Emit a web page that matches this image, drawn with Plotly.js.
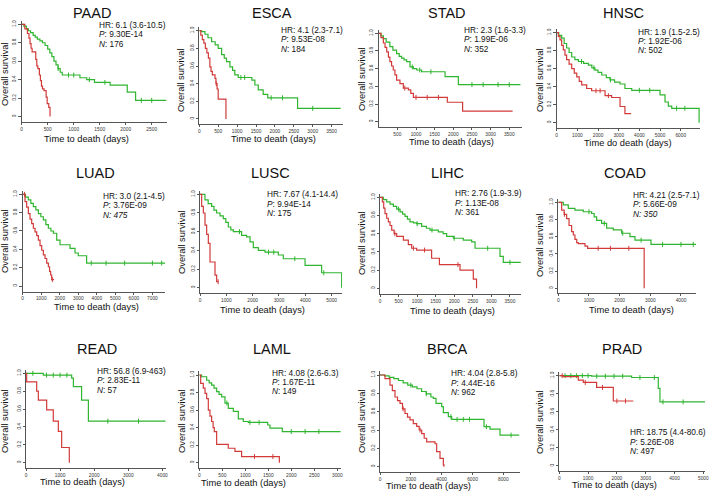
<!DOCTYPE html>
<html>
<head>
<meta charset="utf-8">
<script src="https://cdn.plot.ly/plotly-3.0.1.min.js"></script>
<style>html,body{margin:0;padding:0;background:#fff}#km{width:709px;height:492px}</style>
</head>
<body>
<div id="km"></div>
<script>
var W = 709, H = 492;

// cancer types, in panel order
var cancers = ['PAAD', 'ESCA', 'STAD', 'HNSC', 'LUAD', 'LUSC', 'LIHC', 'COAD', 'READ', 'LAML', 'BRCA', 'PRAD'];
var hrText = ['6.1 (3.6-10.5)', '4.1 (2.3-7.1)', '2.3 (1.6-3.3)', '1.9 (1.5-2.5)', '3.0 (2.1-4.5)', '7.67 (4.1-14.4)',
              '2.76 (1.9-3.9)', '4.21 (2.5-7.1)', '56.8 (6.9-463)', '4.08 (2.6-6.3)', '4.04 (2.8-5.8)', '18.75 (4.4-80.6)'];
var pText = ['9.30E-14', '9.53E-08', '1.99E-06', '1.92E-06', '3.76E-09', '9.94E-14',
             '1.13E-08', '5.66E-09', '2.83E-11', '1.67E-11', '4.44E-16', '5.26E-08'];
var nText = ['176', '184', '352', '502', '475', '175', '361', '350', '57', '149', '962', '497'];

// survival curves: low-risk (green) and high-risk (red), time in days
var paadLoT = [0, 40, 90, 130, 170, 220, 260, 300, 350, 400, 450, 500, 540, 580, 620, 660, 700, 740, 780, 1120, 1250, 1400, 1700, 2030, 2190, 2780];
var paadLoS = [1, 0.98, 0.95, 0.93, 0.91, 0.88, 0.86, 0.84, 0.82, 0.80, 0.77, 0.73, 0.69, 0.65, 0.60, 0.56, 0.52, 0.48, 0.45, 0.42, 0.40, 0.37, 0.34, 0.265, 0.175, 0.175];
var paadHiT = [0, 60, 110, 140, 160, 180, 200, 250, 270, 290, 310, 340, 360, 380, 400, 430, 470, 490, 520, 545];
var paadHiS = [1, 0.95, 0.90, 0.85, 0.79, 0.74, 0.70, 0.70, 0.62, 0.55, 0.52, 0.45, 0.39, 0.33, 0.30, 0.28, 0.21, 0.14, 0.10, 0];

var escaLoT = [0, 60, 150, 230, 326, 420, 500, 590, 660, 720, 810, 880, 940, 1030, 1390, 1470, 1560, 1690, 1810, 2600, 3740];
var escaLoS = [1, 0.99, 0.96, 0.92, 0.875, 0.84, 0.80, 0.73, 0.69, 0.65, 0.59, 0.55, 0.50, 0.47, 0.44, 0.385, 0.33, 0.28, 0.24, 0.12, 0.12];
var escaHiT = [0, 40, 80, 120, 160, 200, 240, 280, 310, 345, 415, 440, 470, 500, 705];
var escaHiS = [1, 0.95, 0.90, 0.86, 0.80, 0.75, 0.69, 0.59, 0.54, 0.50, 0.46, 0.40, 0.34, 0.225, 0];

var stadLoT = [0, 60, 125, 200, 300, 380, 480, 550, 615, 680, 750, 840, 930, 1020, 1150, 1780, 2135, 3800];
var stadLoS = [1, 0.97, 0.94, 0.90, 0.85, 0.81, 0.77, 0.74, 0.72, 0.70, 0.68, 0.62, 0.60, 0.585, 0.565, 0.51, 0.42, 0.42];
var stadHiT = [0, 60, 125, 170, 215, 260, 300, 345, 390, 435, 480, 570, 660, 795, 860, 930, 1840, 2250, 3590];
var stadHiS = [1, 0.95, 0.89, 0.84, 0.79, 0.73, 0.68, 0.63, 0.585, 0.53, 0.47, 0.43, 0.38, 0.36, 0.32, 0.275, 0.22, 0.12, 0.12];

var hnscLoT = [0, 100, 240, 360, 480, 600, 725, 880, 1050, 1300, 1530, 1700, 1850, 2000, 2180, 2400, 2580, 2800, 3065, 3300, 3630, 5000, 5240, 5400, 5565, 6890];
var hnscLoS = [1, 0.97, 0.94, 0.88, 0.83, 0.78, 0.73, 0.70, 0.68, 0.66, 0.64, 0.61, 0.585, 0.56, 0.53, 0.50, 0.475, 0.45, 0.43, 0.38, 0.36, 0.31, 0.23, 0.185, 0.16, 0];
var hnscHiT = [0, 80, 160, 240, 320, 400, 480, 600, 725, 850, 970, 1090, 1210, 1450, 1690, 2340, 2660, 3065, 3300, 3600];
var hnscHiS = [1, 0.96, 0.92, 0.86, 0.81, 0.75, 0.70, 0.65, 0.60, 0.55, 0.51, 0.46, 0.42, 0.38, 0.355, 0.30, 0.28, 0.18, 0.10, 0.10];

var luadLoT = [0, 150, 305, 440, 575, 710, 845, 980, 1115, 1250, 1385, 1520, 1655, 1835, 2015, 2555, 2825, 3000, 3450, 7680];
var luadLoS = [1, 0.97, 0.94, 0.90, 0.865, 0.83, 0.79, 0.755, 0.72, 0.67, 0.63, 0.60, 0.575, 0.50, 0.45, 0.41, 0.36, 0.33, 0.25, 0.25];
var luadHiT = [0, 125, 215, 305, 395, 485, 575, 665, 755, 845, 935, 1025, 1115, 1205, 1295, 1385, 1450, 1510, 1565, 1690];
var luadHiS = [1, 0.92, 0.86, 0.79, 0.73, 0.68, 0.63, 0.59, 0.55, 0.50, 0.44, 0.39, 0.34, 0.30, 0.25, 0.21, 0.16, 0.12, 0.07, 0.07];

var luscLoT = [0, 190, 310, 440, 530, 630, 760, 885, 980, 1075, 1170, 1265, 1580, 1770, 1900, 2025, 2215, 2470, 2975, 3165, 3990, 4620, 5380];
var luscLoS = [1, 0.94, 0.90, 0.87, 0.83, 0.80, 0.77, 0.74, 0.70, 0.65, 0.62, 0.60, 0.56, 0.545, 0.49, 0.43, 0.40, 0.38, 0.35, 0.31, 0.24, 0.16, 0];
var luscHiT = [0, 63, 127, 190, 253, 316, 380, 570, 633, 696];
var luscHiS = [1, 0.87, 0.80, 0.67, 0.57, 0.475, 0.275, 0.135, 0.064, 0.064];

var lihcLoT = [0, 90, 180, 270, 360, 450, 540, 610, 673, 740, 808, 900, 987, 1122, 1250, 1346, 1570, 1700, 1795, 1975, 2244, 2470, 2560, 3232, 3320, 3790];
var lihcLoS = [1, 0.975, 0.95, 0.925, 0.90, 0.87, 0.84, 0.815, 0.79, 0.76, 0.73, 0.72, 0.71, 0.68, 0.66, 0.64, 0.62, 0.60, 0.57, 0.55, 0.53, 0.51, 0.44, 0.35, 0.285, 0.285];
var lihcHiT = [0, 63, 100, 135, 180, 225, 270, 315, 380, 450, 630, 763, 853, 987, 1390, 1600, 2155, 2513, 2600];
var lihcHiS = [1, 0.95, 0.88, 0.82, 0.77, 0.73, 0.69, 0.64, 0.60, 0.57, 0.53, 0.48, 0.44, 0.42, 0.33, 0.26, 0.20, 0.10, 0];

var coadLoT = [0, 163, 326, 543, 815, 1087, 1170, 1250, 1413, 1576, 1793, 2065, 2337, 2500, 3022, 4490];
var coadLoS = [1, 0.97, 0.93, 0.91, 0.89, 0.87, 0.83, 0.79, 0.755, 0.70, 0.68, 0.64, 0.60, 0.56, 0.51, 0.51];
var coadHiT = [0, 109, 190, 272, 350, 435, 490, 543, 600, 652, 870, 956, 2800];
var coadHiS = [1, 0.91, 0.86, 0.81, 0.73, 0.66, 0.62, 0.57, 0.53, 0.52, 0.49, 0.465, 0];

var readLoT = [0, 508, 1340, 1390, 1630, 1830, 4095];
var readLoS = [1, 0.98, 0.945, 0.85, 0.70, 0.465, 0.465];
var readHiT = [0, 20, 313, 362, 606, 800, 948, 1046, 1270];
var readHiS = [1, 0.905, 0.80, 0.70, 0.59, 0.465, 0.35, 0.17, 0];

var lamlLoT = [0, 50, 160, 215, 268, 320, 377, 430, 486, 558, 630, 740, 848, 957, 1065, 1486, 1536, 1804, 3072];
var lamlLoS = [1, 0.98, 0.94, 0.91, 0.885, 0.85, 0.81, 0.78, 0.75, 0.68, 0.62, 0.585, 0.50, 0.47, 0.46, 0.43, 0.395, 0.355, 0.355];
var lamlHiT = [0, 30, 87, 125, 160, 196, 232, 268, 300, 326, 377, 630, 775, 920, 1740];
var lamlHiS = [1, 0.905, 0.85, 0.79, 0.73, 0.60, 0.53, 0.47, 0.40, 0.355, 0.21, 0.165, 0.13, 0.07, 0];

var brcaLoT = [0, 300, 600, 900, 1200, 1500, 1800, 2100, 2400, 2700, 3000, 3300, 3460, 3632, 4000, 4108, 4432, 4650, 6746, 7135, 7784, 9038];
var brcaLoS = [1, 0.99, 0.975, 0.96, 0.94, 0.915, 0.89, 0.87, 0.85, 0.82, 0.795, 0.76, 0.745, 0.69, 0.655, 0.59, 0.545, 0.516, 0.436, 0.41, 0.345, 0.345];
var brcaHiT = [0, 324, 648, 800, 973, 1135, 1297, 1460, 1622, 1784, 1946, 2160, 2378, 2540, 2703, 2865, 3027, 3568, 3676, 3892, 4108, 4150];
var brcaHiS = [1, 0.96, 0.89, 0.83, 0.76, 0.72, 0.69, 0.63, 0.58, 0.54, 0.51, 0.47, 0.44, 0.40, 0.36, 0.31, 0.27, 0.25, 0.165, 0.09, 0.02, 0];

var pradLoT = [0, 1123, 2512, 3437, 3495, 5058];
var pradLoS = [1, 0.995, 0.98, 0.86, 0.71, 0.71];
var pradHiT = [0, 139, 660, 833, 1296, 1875, 2570];
var pradHiS = [1, 0.99, 0.95, 0.925, 0.87, 0.72, 0.72];

// censored times (small tick marks)
var censorLo = [
  [700, 900, 1000, 1300, 1600, 2300, 2500], [1100, 1200, 1900, 2200, 3000], [900, 1100, 1400, 2500, 2800, 3200, 3500],
  [1200, 1800, 2600, 4000, 4500, 5800, 6200], [3700, 4500, 5500, 7000, 7500], [1500, 2600, 2800, 3600, 4700],
  [500, 1000, 1400, 2000, 2900, 3500], [1000, 1500, 2100, 2700, 3400, 4000, 4400], [200, 600, 800, 1000, 1200, 2400, 3300],
  [600, 1100, 1300, 2000, 2300, 2600], [2000, 3000, 4600, 5000, 5400, 5800, 6900, 8500], [200, 400, 600, 800, 1000, 1300, 1600, 1900, 2200, 2800, 3300, 3600, 4300]
];
var censorHi = [
  [], [450], [700, 1000, 1300, 1600], [1900, 2100, 2500], [100, 1600], [690],
  [400, 900, 1200, 2100], [200, 1300, 1700, 2300], [], [1200, 1600], [1500, 2600], [100, 900, 1500, 2000, 2300]
];

var curves = [
  [paadLoT, paadLoS, paadHiT, paadHiS], [escaLoT, escaLoS, escaHiT, escaHiS], [stadLoT, stadLoS, stadHiT, stadHiS],
  [hnscLoT, hnscLoS, hnscHiT, hnscHiS], [luadLoT, luadLoS, luadHiT, luadHiS], [luscLoT, luscLoS, luscHiT, luscHiS],
  [lihcLoT, lihcLoS, lihcHiT, lihcHiS], [coadLoT, coadLoS, coadHiT, coadHiS], [readLoT, readLoS, readHiT, readHiS],
  [lamlLoT, lamlLoS, lamlHiT, lamlHiS], [brcaLoT, brcaLoS, brcaHiT, brcaHiS], [pradLoT, pradLoS, pradHiT, pradHiS]
];

// panel geometry in pixels: day-0 x, px per day, axis end (days), y of 1.0, y of 0, tick step
var geom = [
  {x0: 21.7, ppd: 0.052, xEnd: 2800, y1: 24.3, y0: 116.5, dtick: 500, first: 0},
  {x0: 199.3, ppd: 0.0378, xEnd: 3800, y1: 30.7, y0: 119, dtick: 500, first: 0},
  {x0: 378.7, ppd: 0.0373, xEnd: 3850, y1: 33.3, y0: 121.7, dtick: 500, first: 500},
  {x0: 556.7, ppd: 0.02067, xEnd: 6950, y1: 32.7, y0: 122.7, dtick: 1000, first: 0},
  {x0: 22.7, ppd: 0.01853, xEnd: 7700, y1: 194.3, y0: 286, dtick: 1000, first: 0},
  {x0: 200, ppd: 0.02633, xEnd: 5400, y1: 194.3, y0: 287.7, dtick: 1000, first: 0},
  {x0: 380, ppd: 0.03713, xEnd: 3800, y1: 197.3, y0: 288.3, dtick: 500, first: 0},
  {x0: 558.3, ppd: 0.03067, xEnd: 4500, y1: 202.3, y0: 288.3, dtick: 1000, first: 0},
  {x0: 26, ppd: 0.0341, xEnd: 4100, y1: 373.3, y0: 462.7, dtick: 1000, first: 0},
  {x0: 199.3, ppd: 0.046, xEnd: 3080, y1: 375, y0: 462.7, dtick: 500, first: 0},
  {x0: 380, ppd: 0.01542, xEnd: 9050, y1: 375, y0: 466.7, dtick: 2000, first: 0},
  {x0: 559.3, ppd: 0.0288, xEnd: 5070, y1: 375.7, y0: 466, dtick: 1000, first: 0}
];
// text positions in pixels: title centre, y-title, x-title, stats block
var titlePos = [[92, 13], [272, 13], [447, 13], [623, 13], [95, 173], [270, 173], [447, 173], [625, 173], [97, 349], [272, 349], [447, 349], [622, 349]];
var yTitlePos = [[5, 74], [181, 80], [362, 79], [540, 80], [5, 241], [182, 242], [362, 243], [540, 245], [5, 421], [182, 421], [362, 421], [540, 422]];
var xTitlePos = [[86, 139], [273, 139], [451, 142.5], [628, 143], [96, 306.5], [262, 310], [452, 311], [631, 310], [82, 481.5], [243, 483], [429, 486], [614, 484.5]];
var statPos = [[96.7, 25], [279.3, 30], [461.7, 30], [636, 31.7], [101, 196], [265, 194.3], [453.3, 193.3], [631, 195], [95, 371], [270, 372.7], [449, 373.3], [628.3, 432.3]];

var GREEN = '#2fb52f', RED = '#d23a3a';
var FONT = 'Liberation Sans, Arial, sans-serif';

function survAt(t, ts, ss) {
  var s = ss[0];
  for (var k = 0; k < ts.length; k++) { if (ts[k] <= t) s = ss[k]; }
  return s;
}

var traces = [];
var layout = {
  width: W, height: H,
  margin: {l: 0, r: 0, t: 0, b: 0},
  showlegend: false,
  paper_bgcolor: '#fff',
  plot_bgcolor: 'rgba(0,0,0,0)',
  font: {family: FONT},
  annotations: []
};

function ann(px, py, text, opts) {
  var a = {xref: 'paper', yref: 'paper', x: px / W, y: 1 - py / H, text: text, showarrow: false,
           xanchor: 'center', yanchor: 'middle', font: {family: FONT, size: 9.3, color: '#111'}};
  for (var k in opts) a[k] = opts[k];
  layout.annotations.push(a);
}

cancers.forEach(function (name, i) {
  var g = geom[i];
  var sfx = i === 0 ? '' : String(i + 1);
  var c = curves[i];
  var u = g.y0 - g.y1;
  var yLo = -0.06, yHi = 1.04;
  var bottomPx = g.y0 - yLo * u, topPx = g.y1 - (yHi - 1) * u;

  var tv = [];
  for (var v = g.first; v <= g.xEnd; v += g.dtick) tv.push(v);

  layout['xaxis' + sfx] = {
    domain: [g.x0 / W, (g.x0 + g.xEnd * g.ppd) / W], range: [0, g.xEnd], anchor: 'y' + sfx,
    showline: true, linecolor: '#555', linewidth: 1, ticks: 'outside', ticklen: 2, tickcolor: '#555',
    tickvals: tv, tickfont: {size: 4.8, color: '#333', family: FONT}, showgrid: false, zeroline: false, fixedrange: true
  };
  layout['yaxis' + sfx] = {
    domain: [(H - bottomPx) / H, (H - topPx) / H], range: [yLo, yHi], anchor: 'x' + sfx,
    showline: true, linecolor: '#555', linewidth: 1, ticks: 'outside', ticklen: 2.5, tickcolor: '#555',
    tickvals: [0, 0.2, 0.4, 0.6, 0.8, 1], ticktext: ['0', '0.2', '0.4', '0.6', '0.8', '1.0'], tickangle: -90,
    tickfont: {size: 4.8, color: '#333', family: FONT}, showgrid: false, zeroline: false, fixedrange: true
  };

  [[c[0], c[1], GREEN, censorLo[i]], [c[2], c[3], RED, censorHi[i]]].forEach(function (cv) {
    traces.push({
      x: cv[0], y: cv[1], xaxis: 'x' + sfx, yaxis: 'y' + sfx, type: 'scatter', mode: 'lines',
      line: {shape: 'hv', color: cv[2], width: 1.2}, hoverinfo: 'skip'
    });
    traces.push({
      x: cv[3], y: cv[3].map(function (t) { return survAt(t, cv[0], cv[1]); }),
      xaxis: 'x' + sfx, yaxis: 'y' + sfx, type: 'scatter', mode: 'markers',
      marker: {symbol: 'line-ns', size: 3.5, line: {color: cv[2], width: 1}}, hoverinfo: 'skip'
    });
  });

  ann(titlePos[i][0], titlePos[i][1], name, {font: {family: FONT, size: 14.5, color: '#111'}});
  ann(yTitlePos[i][0], yTitlePos[i][1], 'Overall survival', {textangle: -90});
  ann(xTitlePos[i][0], xTitlePos[i][1], i === 3 ? 'Time do death (days)' : 'Time to death (days)');

  var sx = statPos[i][0], sy = statPos[i][1];
  var nItal = (name === 'LUAD' || name === 'COAD');
  var sf = {family: FONT, size: 8.3, color: '#111'};
  ann(sx, sy, 'HR: ' + hrText[i], {xanchor: 'left', font: sf});
  ann(sx, sy + 9.3, '<i>P</i>: ' + pText[i], {xanchor: 'left', font: sf});
  ann(sx, sy + 18.6, nItal ? '<i>N: ' + nText[i] + '</i>' : '<i>N</i>: ' + nText[i], {xanchor: 'left', font: sf});
});

Plotly.newPlot('km', traces, layout, {displayModeBar: false, staticPlot: true});
</script>
</body>
</html>
